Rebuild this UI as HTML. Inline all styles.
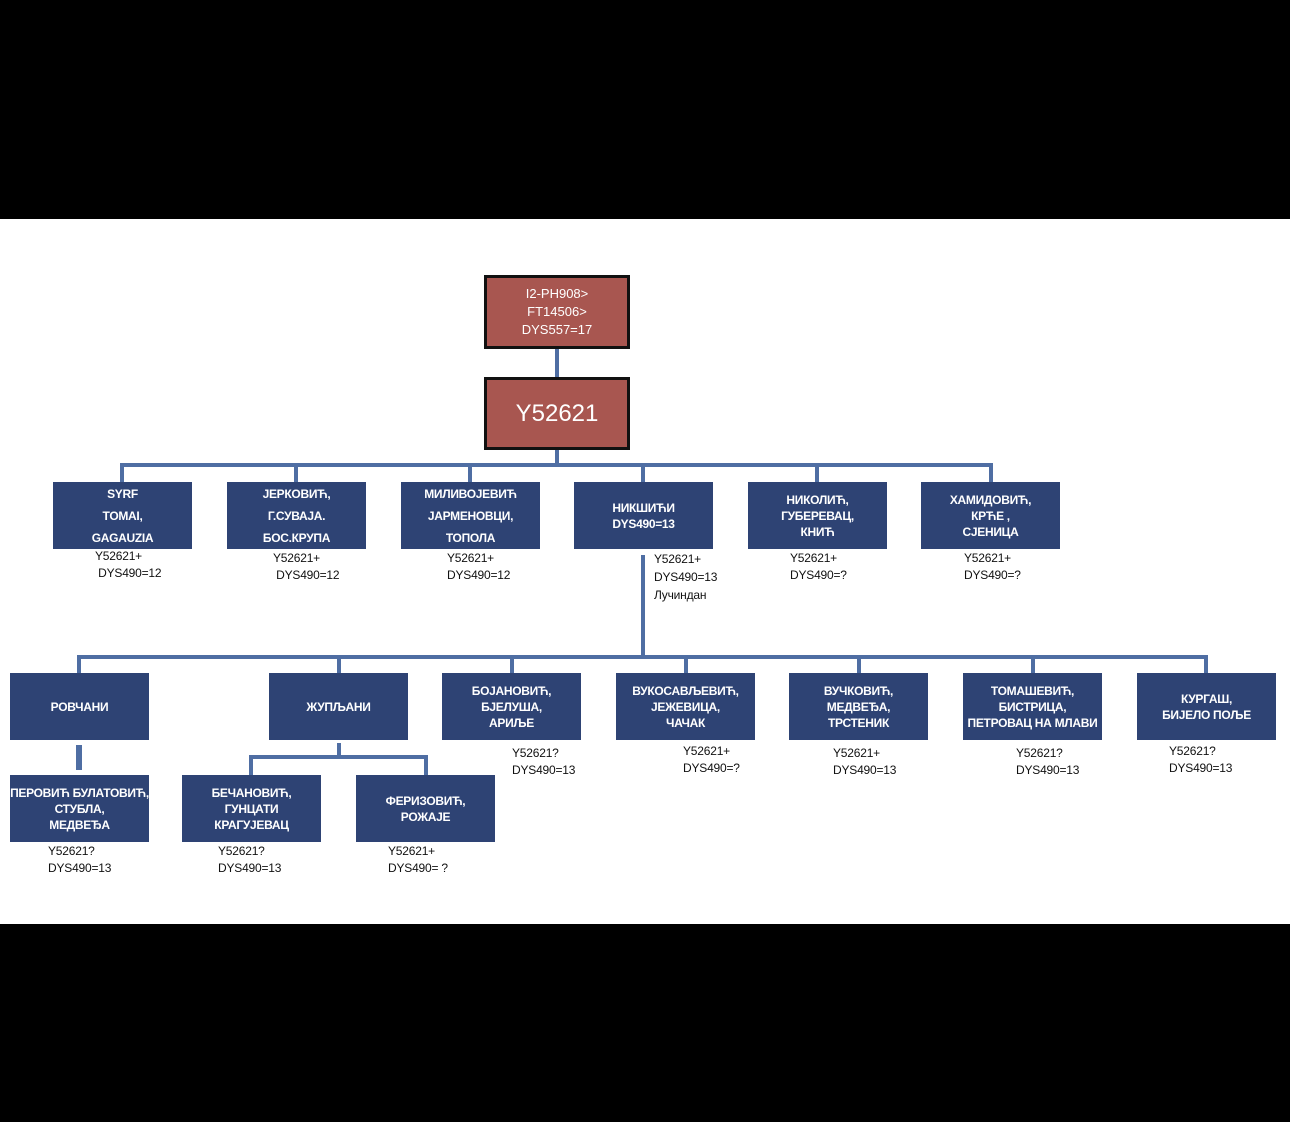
<!DOCTYPE html>
<html><head><meta charset="utf-8"><style>
body{margin:0;width:1290px;height:1122px;background:#000;position:relative;overflow:hidden;font-family:"Liberation Sans",sans-serif}
.w{position:absolute;left:0;top:219px;width:1290px;height:705px;background:#fff}
.b{position:absolute;width:139px;height:67px;background:#2e4374;color:#fff;font-weight:bold;font-size:12px;letter-spacing:-0.3px;display:flex;align-items:center;justify-content:center;text-align:center;line-height:16px;white-space:nowrap;overflow:hidden}
.r{position:absolute;background:#a85650;border:3px solid #111;color:#fff;display:flex;align-items:center;justify-content:center;text-align:center}
.l{position:absolute;background:#4f6ea3}
.t{position:absolute;font-size:12px;line-height:17px;color:#111;white-space:nowrap;letter-spacing:-0.2px}
</style></head><body>
<div class="w"></div>
<div class="r" style="left:484px;top:275px;width:140px;height:68px;font-size:13px;line-height:18px">I2-PH908&gt;<br>FT14506&gt;<br>DYS557=17</div>
<div class="l" style="left:555px;top:349px;width:4px;height:28px"></div>
<div class="r" style="left:484px;top:377px;width:140px;height:67px;font-size:24px">Y52621</div>
<div class="l" style="left:555px;top:450px;width:4px;height:15px"></div>
<div class="l" style="left:120px;top:463px;width:873px;height:4px"></div>
<div class="l" style="left:120px;top:463px;width:4px;height:19px"></div>
<div class="l" style="left:294px;top:463px;width:4px;height:19px"></div>
<div class="l" style="left:468px;top:463px;width:4px;height:19px"></div>
<div class="l" style="left:641px;top:463px;width:4px;height:19px"></div>
<div class="l" style="left:815px;top:463px;width:4px;height:19px"></div>
<div class="l" style="left:989px;top:463px;width:4px;height:19px"></div>

<div class="b" style="left:53px;top:482px;line-height:22px">SYRF<br>TOMAI,<br>GAGAUZIA</div>
<div class="b" style="left:227px;top:482px;line-height:22px">ЈЕРКОВИЋ,<br>Г.СУВАЈА.<br>БОС.КРУПА</div>
<div class="b" style="left:401px;top:482px;line-height:22px">МИЛИВОЈЕВИЋ<br>ЈАРМЕНОВЦИ,<br>ТОПОЛА</div>
<div class="b" style="left:574px;top:482px">НИКШИЋИ<br>DYS490=13</div>
<div class="b" style="left:748px;top:482px">НИКОЛИЋ,<br>ГУБЕРЕВАЦ,<br>КНИЋ</div>
<div class="b" style="left:921px;top:482px">ХАМИДОВИЋ,<br>КРЋЕ ,<br>СЈЕНИЦА</div>

<div class="t" style="left:95px;top:548px">Y52621+<br>&nbsp;DYS490=12</div>
<div class="t" style="left:273px;top:550px">Y52621+<br>&nbsp;DYS490=12</div>
<div class="t" style="left:447px;top:550px">Y52621+<br>DYS490=12</div>
<div class="t" style="left:654px;top:550px;line-height:18px">Y52621+<br>DYS490=13<br>Лучиндан</div>
<div class="t" style="left:790px;top:550px">Y52621+<br>DYS490=?</div>
<div class="t" style="left:964px;top:550px">Y52621+<br>DYS490=?</div>

<div class="l" style="left:641px;top:555px;width:4px;height:102px"></div>
<div class="l" style="left:77px;top:655px;width:1131px;height:4px"></div>
<div class="l" style="left:77px;top:655px;width:4px;height:18px"></div>
<div class="l" style="left:337px;top:655px;width:4px;height:18px"></div>
<div class="l" style="left:510px;top:655px;width:4px;height:18px"></div>
<div class="l" style="left:684px;top:655px;width:4px;height:18px"></div>
<div class="l" style="left:857px;top:655px;width:4px;height:18px"></div>
<div class="l" style="left:1031px;top:655px;width:4px;height:18px"></div>
<div class="l" style="left:1204px;top:655px;width:4px;height:18px"></div>

<div class="b" style="left:10px;top:673px">РОВЧАНИ</div>
<div class="b" style="left:269px;top:673px">ЖУПЉАНИ</div>
<div class="b" style="left:442px;top:673px">БОЈАНОВИЋ,<br>БЈЕЛУША,<br>АРИЉЕ</div>
<div class="b" style="left:616px;top:673px">ВУКОСАВЉЕВИЋ,<br>ЈЕЖЕВИЦА,<br>ЧАЧАК</div>
<div class="b" style="left:789px;top:673px">ВУЧКОВИЋ,<br>МЕДВЕЂА,<br>ТРСТЕНИК</div>
<div class="b" style="left:963px;top:673px">ТОМАШЕВИЋ,<br>БИСТРИЦА,<br>ПЕТРОВАЦ НА МЛАВИ</div>
<div class="b" style="left:1137px;top:673px">КУРГАШ,<br>БИЈЕЛО ПОЉЕ</div>

<div class="t" style="left:512px;top:745px">Y52621?<br>DYS490=13</div>
<div class="t" style="left:683px;top:743px">Y52621+<br>DYS490=?</div>
<div class="t" style="left:833px;top:745px">Y52621+<br>DYS490=13</div>
<div class="t" style="left:1016px;top:745px">Y52621?<br>DYS490=13</div>
<div class="t" style="left:1169px;top:743px">Y52621?<br>DYS490=13</div>

<div class="l" style="left:76px;top:745px;width:6px;height:25px"></div>
<div class="l" style="left:337px;top:743px;width:4px;height:14px"></div>
<div class="l" style="left:249px;top:755px;width:179px;height:4px"></div>
<div class="l" style="left:249px;top:755px;width:4px;height:20px"></div>
<div class="l" style="left:424px;top:755px;width:4px;height:20px"></div>

<div class="b" style="left:10px;top:775px">ПЕРОВИЋ БУЛАТОВИЋ,<br>СТУБЛА,<br>МЕДВЕЂА</div>
<div class="b" style="left:182px;top:775px">БЕЧАНОВИЋ,<br>ГУНЦАТИ<br>КРАГУЈЕВАЦ</div>
<div class="b" style="left:356px;top:775px">ФЕРИЗОВИЋ,<br>РОЖАЈЕ</div>

<div class="t" style="left:48px;top:843px">Y52621?<br>DYS490=13</div>
<div class="t" style="left:218px;top:843px">Y52621?<br>DYS490=13</div>
<div class="t" style="left:388px;top:843px">Y52621+<br>DYS490= ?</div>
</body></html>
